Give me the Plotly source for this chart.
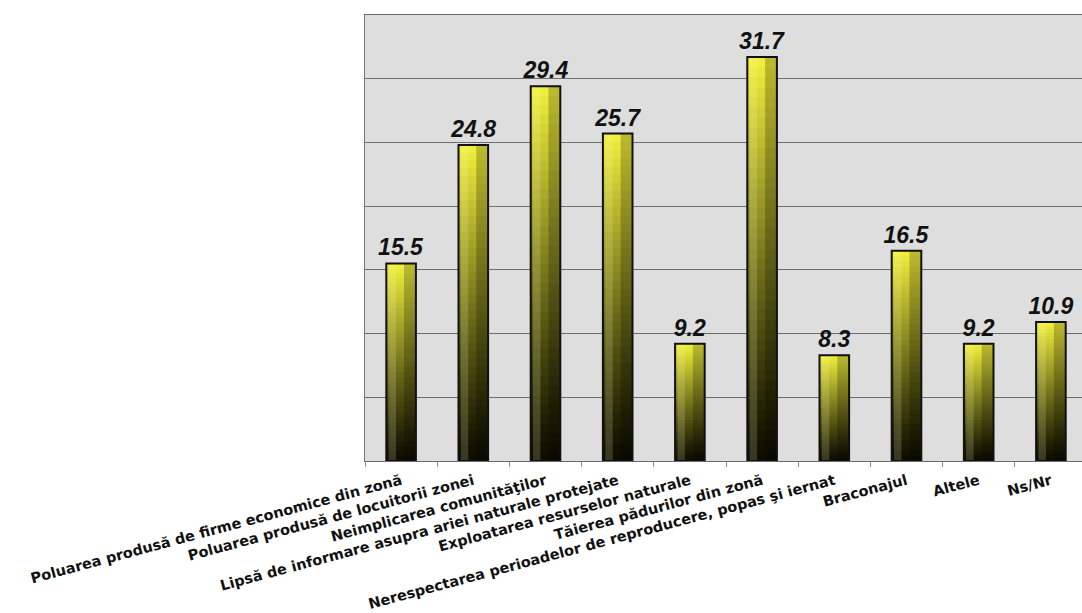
import plotly.graph_objects as go

categories = [
    "Poluarea produsă de firme economice din zonă",
    "Poluarea produsă de locuitorii zonei",
    "Neimplicarea comunităţilor",
    "Lipsă de informare asupra ariei naturale protejate",
    "Exploatarea resurselor naturale",
    "Tăierea pădurilor din zonă",
    "Nerespectarea perioadelor de reproducere, popas şi iernat",
    "Braconajul",
    "Altele",
    "Ns/Nr",
]
values = [15.5, 24.8, 29.4, 25.7, 9.2, 31.7, 8.3, 16.5, 9.2, 10.9]
value_labels = ["15.5", "24.8", "29.4", "25.7", "9.2", "31.7", "8.3", "16.5", "9.2", "10.9"]

BAR_W = 0.41
K = 40
bottom_rgb = (14, 14, 0)
top_rgb = (240, 238, 60)

fig = go.Figure()

# vertical gradient: overlapping segments from base to top
for k in range(K):
    t = k / (K - 1)
    t2 = t ** 1.1
    c = tuple(int(bottom_rgb[i] + (top_rgb[i] - bottom_rgb[i]) * t2) for i in range(3))
    fig.add_trace(go.Bar(
        x=categories,
        base=[v * k / K for v in values],
        y=[v * (K - k) / K for v in values],
        width=BAR_W,
        marker=dict(color="rgb(%d,%d,%d)" % c, line=dict(width=0)),
        hoverinfo="skip",
        showlegend=False,
    ))

# right-side shading
fig.add_trace(go.Bar(
    x=categories, y=values, width=BAR_W * 0.4, offset=BAR_W * 0.1,
    marker=dict(color="rgba(0,0,0,0.22)", line=dict(width=0)),
    hoverinfo="skip", showlegend=False,
))
# left-side highlight
fig.add_trace(go.Bar(
    x=categories, y=values, width=BAR_W * 0.25, offset=-BAR_W * 0.42,
    marker=dict(color="rgba(255,255,190,0.18)", line=dict(width=0)),
    hoverinfo="skip", showlegend=False,
))

# outline + value labels
fig.add_trace(go.Bar(
    x=categories, y=values, width=BAR_W,
    marker=dict(color="rgba(0,0,0,0)", line=dict(color="#111111", width=2)),
    text=value_labels, textposition="outside", cliponaxis=False,
    constraintext="none",
    textfont=dict(family="Liberation Sans", size=23, color="#111111",
                  weight="bold", style="italic"),
    showlegend=False,
))

W, H = 1082, 613
left, top, bottom = 365, 15, 152
plot_w = W - left
cat_px = 72.2
xmax = -0.5 + plot_w / cat_px

fig.update_layout(
    width=W, height=H,
    margin=dict(l=left, r=0, t=top, b=bottom, pad=0),
    barmode="overlay",
    paper_bgcolor="white",
    plot_bgcolor="#dedede",
    uniformtext=dict(mode=False),
)
fig.update_xaxes(
    range=[-0.5, xmax],
    tickangle=-15,
    tickfont=dict(family="DejaVu Sans", size=14.5, color="#111111", weight="bold"),
    ticks="outside", tickson="boundaries", ticklen=5, tickcolor="#8a8aa0",
    ticklabelstandoff=5,
    showline=True, linecolor="#6a6a6a", linewidth=1, mirror=True,
    showgrid=False, fixedrange=True,
)
fig.update_yaxes(
    range=[0, 35], dtick=5, tick0=0,
    showticklabels=False, ticks="",
    showgrid=True, gridcolor="#6e6e6e", gridwidth=1,
    showline=True, linecolor="#7a7a7a", linewidth=1,
    zeroline=False, fixedrange=True,
)

fig.write_html("out.html", post_script="document.body.style.margin='0';",
               config={"displayModeBar": False})
